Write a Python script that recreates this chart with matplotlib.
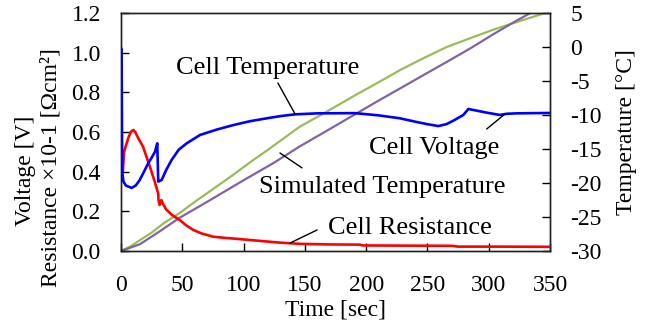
import matplotlib
matplotlib.use("Agg")
import matplotlib.pyplot as plt

plt.rcParams['font.family'] = ['Liberation Serif', 'DejaVu Serif']
plt.rcParams['axes.unicode_minus'] = False

# cell voltage [V]
t_volt = [0, 0.5, 1, 2, 4, 6, 8.7, 12, 15, 18, 22, 25, 27.7, 29.6, 30.4, 33.2, 37, 41.3, 47,
          53.6, 64.5, 78, 91.7, 105, 118.9, 130, 142, 160, 191, 210, 227.6, 240, 249.4,
          258.9, 265.7, 272, 279.3, 283.4, 287.5, 298, 309, 315, 322.8, 335, 350]
volt = [1.02, 1.02, 0.40, 0.35, 0.33, 0.325, 0.318, 0.33, 0.355, 0.39, 0.44, 0.47, 0.50,
        0.543, 0.35, 0.358, 0.41, 0.459, 0.51, 0.543, 0.585, 0.612, 0.635, 0.654, 0.669,
        0.68, 0.689, 0.694, 0.695, 0.684, 0.669, 0.652, 0.640, 0.630, 0.640, 0.66, 0.686,
        0.716, 0.711, 0.698, 0.686, 0.692, 0.694, 0.695, 0.696]

# cell resistance x10-1 [Ohm cm2]
t_res = [0, 0.5, 1, 1.5, 2.5, 4, 6, 8, 10, 11.6, 14, 18, 23.6, 27, 30.4, 30.6, 31.5, 33,
         34, 37.2, 42, 48, 53, 59, 66, 75.3, 85, 97, 115, 130, 146, 170, 195, 197, 230,
         270, 275, 310, 350]
resist = [0.53, 0.55, 0.46, 0.40, 0.50, 0.53, 0.57, 0.60, 0.61, 0.60, 0.57, 0.526, 0.425,
          0.36, 0.29, 0.257, 0.232, 0.257, 0.24, 0.207, 0.18, 0.156, 0.13, 0.106, 0.088,
          0.072, 0.066, 0.06, 0.05, 0.042, 0.036, 0.033, 0.032, 0.028, 0.027, 0.026, 0.022,
          0.022, 0.021]

# measured cell temperature [degC]
t_cell = [0, 8, 15.5, 25, 35, 48, 60, 75, 90, 105, 120, 146, 166, 190, 210, 227.6, 245,
          265.7, 285, 303, 325, 346]
cell_temp = [-30, -29.3, -28.4, -27.3, -25.9, -24.4, -22.8, -20.9, -19.0, -17.0, -15.1,
             -11.7, -9.7, -7.2, -5.2, -3.4, -1.8, 0.0, 1.3, 2.5, 3.8, 5.0]

# simulated temperature [degC]
t_sim = [0, 15.5, 30, 48, 70, 100, 125, 146, 170, 189, 210, 227.6, 250, 265.7, 285, 303,
         320, 334]
sim_temp = [-30, -29.0, -27.3, -25.1, -22.8, -19.6, -17.0, -14.6, -12.1, -10.1, -7.9,
            -6.1, -3.8, -2.2, -0.2, 1.8, 3.6, 5.0]

fig = plt.figure(figsize=(6.48, 3.26), dpi=100)
ax = fig.add_axes([0.1867, 0.2301, 0.6621, 0.7300])
ax2 = ax.twinx()

ax2.plot(t_cell, cell_temp, color='#9bbb59', lw=1.6)
ax2.plot(t_sim, sim_temp, color='#8064a2', lw=1.6)
ax.plot(t_res, resist, color='#ff0000', lw=1.9, zorder=3)
ax.plot(t_volt, volt, color='#0000ff', lw=1.9, zorder=3)
ax.set_zorder(ax2.get_zorder() + 1)
ax.patch.set_visible(False)

ax.set_xlim(0, 350)
ax.set_ylim(0, 1.2)
ax2.set_ylim(-30, 5)
ax.set_xticks(range(0, 351, 50))
ax.set_yticks([0, 0.2, 0.4, 0.6, 0.8, 1.0, 1.2])
ax.set_yticklabels(['0.0', '0.2', '0.4', '0.6', '0.8', '1.0', '1.2'])
ax2.set_yticks(range(-30, 6, 5))

ax.tick_params(axis='both', direction='in', length=5.5, width=1, labelsize=17, pad=14.5)
ax.tick_params(axis='x', pad=17)
ax2.tick_params(axis='y', direction='in', length=5.5, width=1, labelsize=17, pad=14.5)
for a in (ax, ax2):
    for s in a.spines.values():
        s.set_linewidth(1.0)
        s.set_color('#222222')

ax.set_xlabel('Time [sec]', fontsize=17, labelpad=3)
ax2.set_ylabel('Temperature [°C]', fontsize=17, labelpad=10)
fig.text(0.039, 0.475, 'Voltage [V]', rotation=90, ha='center', va='center', fontsize=17)
fig.text(0.079, 0.487, 'Resistance ×10-1 [Ωcm²]', rotation=90, ha='center', va='center',
         fontsize=17)

# labels with leader lines
lead = dict(arrowstyle='-', color='black', lw=1.0, shrinkA=0, shrinkB=0)
ax.text(120, 0.923, 'Cell Temperature', fontsize=19, ha='center', va='center')
ax.annotate('', xy=(142, 0.691), xytext=(128, 0.847), arrowprops=lead)
ax.text(255.4, 0.52, 'Cell Voltage', fontsize=19, ha='center', va='center')
ax.annotate('', xy=(313.3, 0.691), xytext=(298.3, 0.615), arrowprops=lead)
ax.text(213.3, 0.323, 'Simulated Temperature', fontsize=19, ha='center', va='center')
ax.annotate('', xy=(129.7, 0.494), xytext=(147.7, 0.419), arrowprops=lead)
ax.text(235.8, 0.116, 'Cell Resistance', fontsize=19, ha='center', va='center')
ax.annotate('', xy=(137.9, 0.04), xytext=(160, 0.106), arrowprops=lead)

fig.savefig('out.png', dpi=100)
